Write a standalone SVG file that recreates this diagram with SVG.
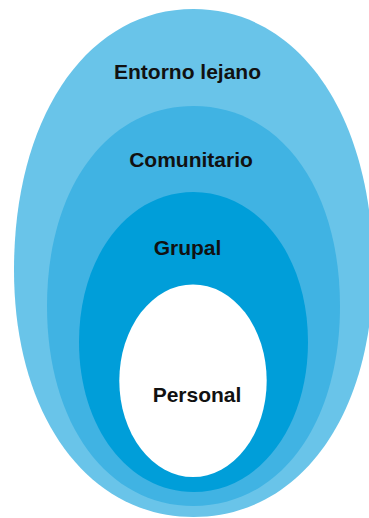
<svg xmlns="http://www.w3.org/2000/svg" width="369" height="518" viewBox="0 0 369 518">
<style>
.lbl{font-family:"Liberation Sans",Arial,sans-serif;font-weight:bold;font-size:21px;fill:#111;text-anchor:middle}
</style>
<rect width="369" height="518" fill="#fff"/>
<g id="entorno-lejano">
<path d="M193.5,9 C87.6,9 14,116 14,270 C14,415.7 87.6,517 193.5,517 C299.4,517 373,415.7 373,270 C373,116 299.4,9 193.5,9 Z" fill="#69C4E9"/>
<text class="lbl" x="187.5" y="79">Entorno lejano</text>
</g>
<g id="comunitario">
<path d="M193.5,106 C107.1,106 47,188 47,306 C47,424 107.1,506 193.5,506 C279.9,506 340,424 340,306 C340,188 279.9,106 193.5,106 Z" fill="#40B3E3"/>
<text class="lbl" x="191" y="167">Comunitario</text>
</g>
<g id="grupal">
<path d="M193.5,192 C128.2,192 79,256.5 79,342 C79,427.5 128.2,492 193.5,492 C258.8,492 308,427.5 308,342 C308,256.5 258.8,192 193.5,192 Z" fill="#009ED9"/>
<text class="lbl" x="187.5" y="255">Grupal</text>
</g>
<g id="personal">
<ellipse cx="193" cy="380.7" rx="73.7" ry="96.3" fill="#FFFFFF"/>
<text class="lbl" x="197" y="402">Personal</text>
</g>
<g id="connectors"/>
</svg>
